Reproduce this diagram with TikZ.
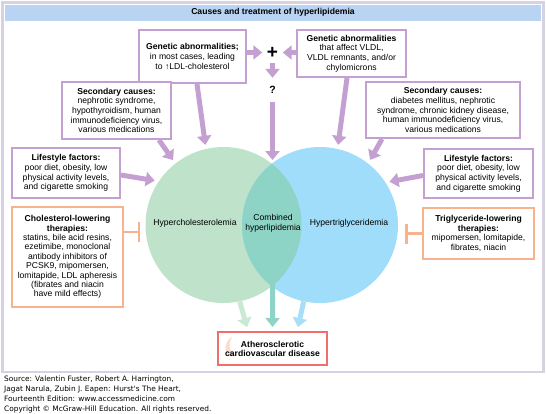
\documentclass[tikz,border=0pt]{standalone}
\usepackage{fontspec}
\setmainfont{Liberation Sans}
\newfontfamily\srcfont{DejaVu Sans}
\usetikzlibrary{arrows.meta}
\definecolor{purp}{RGB}{196,160,210}
\definecolor{frameC}{RGB}{214,210,228}
\definecolor{titleC}{RGB}{185,212,242}
\definecolor{cholC}{RGB}{190,227,202}
\definecolor{trigC}{RGB}{160,221,250}
\definecolor{combC}{RGB}{142,212,198}
\definecolor{cholA}{RGB}{202,233,213}
\definecolor{trigA}{RGB}{168,222,248}
\definecolor{orng}{RGB}{248,178,142}
\definecolor{redC}{RGB}{240,110,110}

\begin{document}
\begin{tikzpicture}[x=1pt,y=-1pt,
  txt/.style={inner sep=0pt,align=center,font=\fontsize{8.6}{9.7}\selectfont},
  cause/.style={txt,draw=purp,line width=2pt,fill=white},
  therapy/.style={cause,draw=orng},
  parrow/.style={draw=purp,line width=5pt,-{Triangle[width=14pt,length=9pt]}},
  carrow/.style={draw=#1,line width=5pt,-{Triangle[width=14pt,length=9pt]},shorten >=4pt},
  tbar/.style={draw=orng,line width=2.5pt,-{Bar[width=20pt]}}]
\useasboundingbox (0,0) rectangle (546,413);
\draw[frameC,line width=2.5pt] (2.5,2.5) rectangle (543.5,372);
\node[txt,fill=titleC,minimum width=536pt,minimum height=16pt,font=\bfseries\fontsize{8.6}{9.6}\selectfont] (title) at (273,12.5) {Causes and treatment of hyperlipidemia};

% venn circles
\node[circle,fill=cholC,minimum size=156pt,inner sep=0pt] (hc) at (223.5,225) {};
\node[circle,fill=trigC,minimum size=156pt,inner sep=0pt] (tc) at (320,225) {};
\begin{scope}
  \clip (hc.center) circle[radius=78pt];
  \fill[combC] (tc.center) circle[radius=78pt];
\end{scope}
\node[txt] (hcl) at (195,223) {Hypercholesterolemia};
\node[txt] (comb) at (273,223.5) {Combined\\hyperlipidemia};
\node[txt] (tcl) at (349,223) {Hypertriglyceridemia};

% boxes
\node[cause,minimum width=107pt,minimum height=53pt] (genL) at (192.5,56.5)
  {\textbf{Genetic abnormalities;}\\in most cases, leading\\to ↑LDL-cholesterol};
\node[cause,minimum width=109pt,minimum height=47pt] (genR) at (351.5,53.5)
  {\textbf{Genetic abnormalities}\\that affect VLDL,\\VLDL remnants, and/or\\chylomicrons};
\node[cause,minimum width=109pt,minimum height=57pt] (secL) at (116.5,110.5)
  {\textbf{Secondary causes:}\\nephrotic syndrome,\\hypothyroidism, human\\immunodeficiency virus,\\various medications};
\node[cause,minimum width=154pt,minimum height=56pt] (secR) at (443,110)
  {\textbf{Secondary causes:}\\diabetes mellitus, nephrotic\\syndrome, chronic kidney disease,\\human immunodeficiency virus,\\various medications};
\node[cause,minimum width=108pt,minimum height=50pt] (lifeL) at (66,173)
  {\textbf{Lifestyle factors:}\\poor diet, obesity, low\\physical activity levels,\\and cigarette smoking};
\node[cause,minimum width=109pt,minimum height=49pt] (lifeR) at (478.5,173.5)
  {\textbf{Lifestyle factors:}\\poor diet, obesity, low\\physical activity levels,\\and cigarette smoking};
\node[therapy,minimum width=111pt,minimum height=100pt,font=\fontsize{8.6}{9.4}\selectfont] (cholT) at (67.5,257)
  {\textbf{Cholesterol-lowering}\\\textbf{therapies:}\\statins, bile acid resins,\\ezetimibe, monoclonal\\antibody inhibitors of\\PCSK9, mipomersen,\\lomitapide, LDL apheresis\\(fibrates and niacin\\have mild effects)};
\node[therapy,minimum width=111pt,minimum height=51pt] (trigT) at (478.5,233.5)
  {\textbf{Triglyceride-lowering}\\\textbf{therapies:}\\mipomersen, lomitapide,\\fibrates, niacin};

\node[txt,font=\bfseries\fontsize{19}{19}\selectfont,minimum size=20pt] (plus) at (272.5,52.5) {+};
\node[txt,font=\bfseries\fontsize{10.5}{10.5}\selectfont,minimum height=24pt] (quest) at (272.5,90) {?};
\coordinate (lens) at (272.5,160);

\fill[orng!45] (229,356) .. controls (223,349) and (225,341) .. (232,337) .. controls (228,343) and (229,350) .. (234,356) -- cycle;
\node[txt,draw=redC,line width=2pt,minimum width=109pt,minimum height=33pt,font=\bfseries\fontsize{8.6}{9}\selectfont] (ascvd) at (272.5,348.5)
  {Atherosclerotic\\cardiovascular disease};

% causes
\draw[parrow] (genL.east |- plus) -- (plus.west);
\draw[parrow] (genR.west |- plus) -- (plus.east);
\draw[parrow] (plus.south) -- (quest.north);
\draw[parrow] (quest.south) -- (lens);
\draw[parrow,shorten >=4pt] ([xshift=59pt]genL.south west) -- (hc.103);
\draw[parrow,shorten >=4pt] ([xshift=-13pt]secL.south east) -- (hc.128);
\draw[parrow,shorten >=4pt] ([yshift=-2pt]lifeL.east) -- (hc.146);
\draw[parrow,shorten >=4pt] ([xshift=-4.5pt]genR.south) -- (tc.77);
\draw[parrow,shorten >=4pt] ([xshift=17pt]secR.south west) -- (tc.52);
\draw[parrow,shorten >=4pt] ([yshift=-2pt]lifeR.west) -- (tc.33);

% therapies
\draw[tbar] ([yshift=25pt]cholT.east) -- ++(16,0);
\draw[tbar] (trigT.west) -- ++(-17,0);

% outcome
\draw[carrow=cholA] (hc.-78) -- ([xshift=-24.5pt]ascvd.north);
\draw[carrow=combC] (comb.south) -- (ascvd.north);
\draw[carrow=trigA] (tc.-102) -- ([xshift=24.5pt]ascvd.north);

\node[anchor=north west,align=left,inner sep=0pt,font=\srcfont\fontsize{7.4}{10}\selectfont] (src) at (4,375.5)
  {Source: Valentin Fuster, Robert A. Harrington,\\Jagat Narula, Zubin J. Eapen: Hurst's The Heart,\\Fourteenth Edition: www.accessmedicine.com\\Copyright © McGraw-Hill Education. All rights reserved.};
\end{tikzpicture}
\end{document}
